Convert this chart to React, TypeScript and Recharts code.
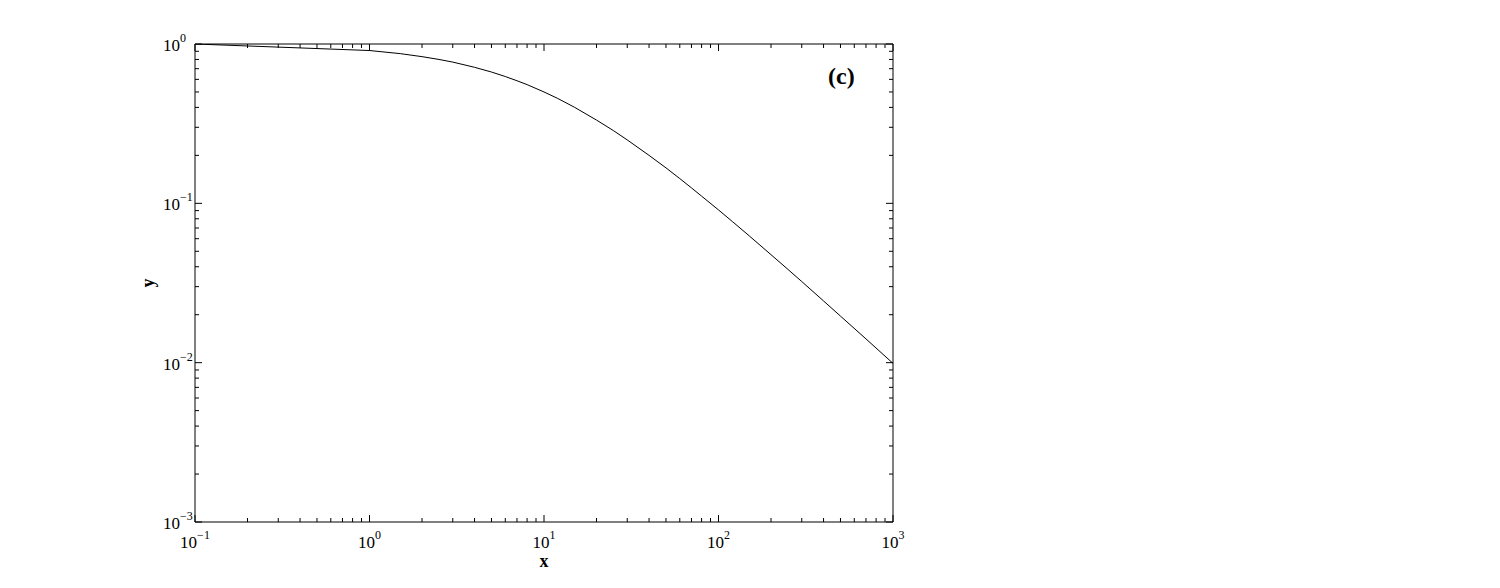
import React from 'react';
import { LineChart, Line, XAxis, YAxis, Customized } from 'recharts';

const xValues = [0.1, 1, 1.5, 2, 2.5, 3, 4, 5, 6, 7, 8, 10, 12, 15, 20, 25, 30, 40, 50, 60, 70, 80, 100, 120, 150, 200, 250, 300, 400, 500, 700, 1000];
const yValues = [1.0, 0.91, 0.87, 0.833, 0.8, 0.77, 0.714, 0.667, 0.625, 0.588, 0.556, 0.5, 0.455, 0.4, 0.333, 0.286, 0.25, 0.2, 0.167, 0.143, 0.125, 0.111, 0.0909, 0.0769, 0.0625, 0.0476, 0.0385, 0.0323, 0.0244, 0.0196, 0.0141, 0.0099];

const xMajor = [0.1, 1, 10, 100, 1000];
const xExponents = ['−1', '0', '1', '2', '3'];
const yMajor = [0.001, 0.01, 0.1, 1];
const yExponents = ['−3', '−2', '−1', '0'];
const minorMultipliers = [2, 3, 4, 5, 6, 7, 8, 9];

const xMinor: number[] = [];
[0.1, 1, 10, 100].forEach((d) => minorMultipliers.forEach((m) => xMinor.push(+(m * d).toPrecision(6))));
const yMinor: number[] = [];
[0.001, 0.01, 0.1].forEach((d) => minorMultipliers.forEach((m) => yMinor.push(+(m * d).toPrecision(6))));

const xTicks = [...xMajor, ...xMinor].sort((a, b) => a - b);
const yTicks = [...yMajor, ...yMinor].sort((a, b) => a - b);

const data = xValues.map((x, i) => ({ x, y: yValues[i] }));

const FONT = 'Liberation Serif, Times New Roman, serif';
const MAJOR = 7;
const MINOR = 4;

const idxOf = (v: number, list: number[]) => list.findIndex((m) => Math.abs(m - v) / m < 1e-6);

const BottomTick = (props: any) => {
  const { x, y, payload } = props;
  const idx = idxOf(payload.value, xMajor);
  const major = idx >= 0;
  return (
    <g>
      <line x1={x} x2={x} y1={y} y2={y - (major ? MAJOR : MINOR)} stroke="#000" strokeWidth={1} />
      {major && (
        <text x={x} y={y + 26} textAnchor="middle" fontFamily={FONT} fontSize={17} fill="#000">
          10<tspan dy={-9} fontSize={12}>{xExponents[idx]}</tspan>
        </text>
      )}
    </g>
  );
};

const TopTick = (props: any) => {
  const { x, y, payload } = props;
  const major = idxOf(payload.value, xMajor) >= 0;
  return <line x1={x} x2={x} y1={y} y2={y + (major ? MAJOR : MINOR)} stroke="#000" strokeWidth={1} />;
};

const LeftTick = (props: any) => {
  const { x, y, payload } = props;
  const idx = idxOf(payload.value, yMajor);
  const major = idx >= 0;
  return (
    <g>
      <line x1={x} x2={x + (major ? MAJOR : MINOR)} y1={y} y2={y} stroke="#000" strokeWidth={1} />
      {major && (
        <text x={x - 32} y={y + 7} textAnchor="start" fontFamily={FONT} fontSize={17} fill="#000">
          10<tspan dy={-9} fontSize={12}>{yExponents[idx]}</tspan>
        </text>
      )}
    </g>
  );
};

const RightTick = (props: any) => {
  const { x, y, payload } = props;
  const major = idxOf(payload.value, yMajor) >= 0;
  return <line x1={x} x2={x - (major ? MAJOR : MINOR)} y1={y} y2={y} stroke="#000" strokeWidth={1} />;
};

const Annotations = () => (
  <g>
    <text x={536} y={559} textAnchor="middle" fontFamily={FONT} fontWeight="bold" fontSize={18} fill="#000">x</text>
    <text
      x={0}
      y={0}
      transform="translate(146,275) rotate(-90)"
      textAnchor="middle"
      fontFamily={FONT}
      fontWeight="bold"
      fontSize={18}
      fill="#000"
    >
      y
    </text>
    <text x={820} y={76} textAnchor="start" fontFamily={FONT} fontWeight="bold" fontSize={24} fill="#000">(c)</text>
  </g>
);

export default function App() {
  return (
    <div style={{ width: 1484, height: 572 }}>
      <LineChart
        width={1484}
        height={572}
        data={data}
        margin={{ top: 30, left: 147, right: 594, bottom: 28 }}
      >
        <XAxis
          xAxisId="bottom"
          dataKey="x"
          type="number"
          scale="log"
          domain={[0.1, 1000]}
          allowDataOverflow
          ticks={xTicks}
          interval={0}
          height={30}
          tickSize={0}
          tickMargin={0}
          tickLine={false}
          axisLine={{ stroke: '#000', strokeWidth: 1 }}
          tick={<BottomTick />}
        />
        <XAxis
          xAxisId="top"
          orientation="top"
          dataKey="x"
          type="number"
          scale="log"
          domain={[0.1, 1000]}
          allowDataOverflow
          ticks={xTicks}
          interval={0}
          height={6}
          tickSize={0}
          tickMargin={0}
          tickLine={false}
          axisLine={{ stroke: '#000', strokeWidth: 1 }}
          tick={<TopTick />}
        />
        <YAxis
          yAxisId="left"
          type="number"
          scale="log"
          domain={[0.001, 1]}
          allowDataOverflow
          ticks={yTicks}
          interval={0}
          width={40}
          tickSize={0}
          tickMargin={0}
          tickLine={false}
          axisLine={{ stroke: '#000', strokeWidth: 1 }}
          tick={<LeftTick />}
        />
        <YAxis
          yAxisId="right"
          orientation="right"
          type="number"
          scale="log"
          domain={[0.001, 1]}
          allowDataOverflow
          ticks={yTicks}
          interval={0}
          width={5}
          tickSize={0}
          tickMargin={0}
          tickLine={false}
          axisLine={{ stroke: '#000', strokeWidth: 1 }}
          tick={<RightTick />}
        />
        <Line
          xAxisId="bottom"
          yAxisId="left"
          dataKey="y"
          type="linear"
          stroke="#000"
          strokeWidth={1}
          dot={false}
          isAnimationActive={false}
        />
        <Customized component={Annotations} />
      </LineChart>
    </div>
  );
}
